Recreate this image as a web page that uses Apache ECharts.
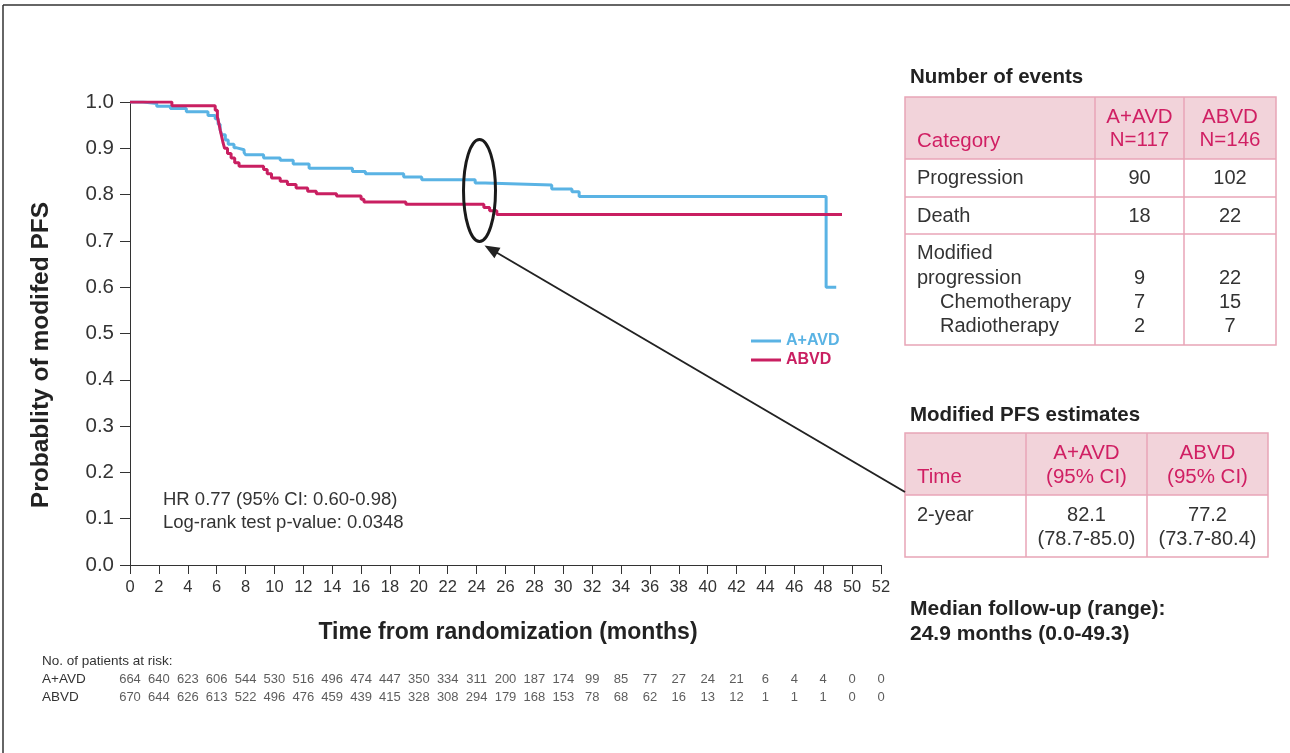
<!DOCTYPE html>
<html><head><meta charset="utf-8">
<script src="https://cdn.jsdelivr.net/npm/echarts@6/dist/echarts.min.js"></script>
<style>html,body{margin:0;padding:0;background:#fff}#c{width:1290px;height:753px}</style>
</head><body><div id="c"></div>
<script>
// ---- data ----
const aavdTime = [0, 0.9, 1.85, 2.8, 3.9, 5.4, 5.9, 6.1, 6.24, 6.35, 6.6, 6.8, 7.2, 7.4, 7.9, 8.0, 9.25, 10.4, 11.3, 12.4, 15.4, 16.3, 18.95, 20.2, 23.9, 24.6, 29.2, 30.6, 31.1, 48.2, 48.9];
const aavdSurv = [1.0, 0.997, 0.991, 0.986, 0.979, 0.971, 0.964, 0.952, 0.940, 0.929, 0.918, 0.909, 0.901, 0.897, 0.891, 0.886, 0.879, 0.874, 0.866, 0.857, 0.850, 0.845, 0.838, 0.832, 0.825, 0.821, 0.812, 0.806, 0.796, 0.600, 0.600];
const abvdTime = [0, 2.9, 5.9, 6.05, 6.15, 6.25, 6.35, 6.45, 6.55, 6.75, 7.0, 7.25, 7.55, 9.25, 9.5, 9.8, 10.4, 10.9, 11.5, 12.3, 12.9, 14.3, 16.0, 16.2, 19.1, 24.5, 24.9, 25.4, 49.3];
const abvdSurv = [1.0, 0.992, 0.982, 0.968, 0.954, 0.939, 0.925, 0.911, 0.900, 0.889, 0.879, 0.869, 0.861, 0.854, 0.845, 0.836, 0.829, 0.822, 0.814, 0.807, 0.802, 0.797, 0.790, 0.784, 0.779, 0.772, 0.765, 0.757, 0.757];

const riskTimes = [0, 2, 4, 6, 8, 10, 12, 14, 16, 18, 20, 22, 24, 26, 28, 30, 32, 34, 36, 38, 40, 42, 44, 46, 48, 50, 52];
const riskAAVD = [664, 640, 623, 606, 544, 530, 516, 496, 474, 447, 350, 334, 311, 200, 187, 174, 99, 85, 77, 27, 24, 21, 6, 4, 4, 0, 0];
const riskABVD = [670, 644, 626, 613, 522, 496, 476, 459, 439, 415, 328, 308, 294, 179, 168, 153, 78, 68, 62, 16, 13, 12, 1, 1, 1, 0, 0];

const seriesNames = ['A+AVD', 'ABVD'];
const eventRows = ['Progression', 'Death'];
const eventsAAVD = [90, 18];
const eventsABVD = [102, 22];
const modifiedLabels = ['Modified', 'progression', 'Chemotherapy', 'Radiotherapy'];
const modifiedAAVD = ['', '9', '7', '2'];
const modifiedABVD = ['', '22', '15', '7'];
const nAAVD = 117, nABVD = 146;
const pfsTime = '2-year';
const pfsAAVD = ['82.1', '(78.7-85.0)'];
const pfsABVD = ['77.2', '(73.7-80.4)'];
const hrText = ['HR 0.77 (95% CI: 0.60-0.98)', 'Log-rank test p-value: 0.0348'];
const followUp = ['Median follow-up (range):', '24.9 months (0.0-49.3)'];

// ---- styles ----
const BLUE = '#5ab3e4', PINK = '#c91f61', FONT = '"Liberation Sans", Arial, Helvetica, sans-serif';
const TXT = '#333333', HEADBG = '#f2d3da', BORDER = '#e8a5b7', HEADTXT = '#d01f63';

const chart = echarts.init(document.getElementById('c'), null, {renderer: 'canvas'});

const kmAAVD = aavdTime.map((t, i) => [t, aavdSurv[i]]);
const kmABVD = abvdTime.map((t, i) => [t, abvdSurv[i]]);

chart.setOption({
  animation: false,
  textStyle: {fontFamily: FONT},
  grid: [
    {left: 130, right: 409, top: 102, bottom: 188},
    {left: 130, right: 409, top: 670, height: 36}
  ],
  legend: {
    orient: 'vertical', left: 751, top: 332, padding: 0, icon: 'rect', itemWidth: 30, itemHeight: 3, itemGap: 1,
    selectedMode: false,
    textStyle: {fontFamily: FONT, fontSize: 16, fontWeight: 'bold', lineHeight: 18},
    data: [
      {name: 'A+AVD', textStyle: {color: BLUE}},
      {name: 'ABVD', textStyle: {color: PINK}}
    ]
  },
  xAxis: [
    {type: 'value', gridIndex: 0, min: 0, max: 52, interval: 2,
     axisLine: {lineStyle: {color: '#333', width: 1}},
     axisTick: {length: 9, lineStyle: {color: '#333'}},
     axisLabel: {fontSize: 16.5, color: TXT, margin: 14, fontFamily: FONT},
     splitLine: {show: false}},
    {type: 'value', gridIndex: 1, min: 0, max: 52, interval: 2, show: false}
  ],
  yAxis: [
    {type: 'value', gridIndex: 0, min: 0, max: 1, interval: 0.1,
     axisLine: {show: true, lineStyle: {color: '#333', width: 1}},
     axisTick: {show: true, length: 10, lineStyle: {color: '#333'}},
     axisLabel: {fontSize: 20.5, color: TXT, margin: 16, fontFamily: FONT, formatter: v => v.toFixed(1)},
     splitLine: {show: false}},
    {type: 'category', gridIndex: 1, data: seriesNames, inverse: true, show: false}
  ],
  series: [
    {name: 'A+AVD', type: 'line', step: 'end', data: kmAAVD, symbol: 'none',
     lineStyle: {color: BLUE, width: 3}, itemStyle: {color: BLUE}, z: 3},
    {name: 'ABVD', type: 'line', step: 'end', data: kmABVD, symbol: 'none',
     lineStyle: {color: PINK, width: 3}, itemStyle: {color: PINK}, z: 4},
    {name: 'riskA', type: 'scatter', xAxisIndex: 1, yAxisIndex: 1, symbolSize: 1,
     itemStyle: {color: 'rgba(0,0,0,0)'}, silent: true,
     data: riskTimes.map((t, i) => [t, 'A+AVD', riskAAVD[i]]),
     label: {show: true, position: 'inside', formatter: p => String(p.value[2]), fontSize: 13, color: TXT, fontFamily: FONT}},
    {name: 'riskB', type: 'scatter', xAxisIndex: 1, yAxisIndex: 1, symbolSize: 1,
     itemStyle: {color: 'rgba(0,0,0,0)'}, silent: true,
     data: riskTimes.map((t, i) => [t, 'ABVD', riskABVD[i]]),
     label: {show: true, position: 'inside', formatter: p => String(p.value[2]), fontSize: 13, color: TXT, fontFamily: FONT}}
  ]
});

// ---- annotations / side tables ----
function txt(x, y, s, o) {
  o = o || {};
  return {type: 'text', x: x, y: y, silent: true, z: 10, rotation: o.rotation || 0,
    style: {text: s, fill: o.color || TXT, fontSize: o.size || 20, fontWeight: o.weight || 'normal',
      fontFamily: FONT, textAlign: o.align || 'left', textVerticalAlign: 'middle'}};
}
function line(x1, y1, x2, y2, color, w) {
  return {type: 'line', silent: true, z: 9, shape: {x1, y1, x2, y2}, style: {stroke: color, lineWidth: w}};
}
function rect(x, y, w, h, fill, stroke) {
  return {type: 'rect', silent: true, z: 8, shape: {x, y, width: w, height: h},
    style: {fill: fill || 'none', stroke: stroke || 'none', lineWidth: 1.5}};
}

const g = [];
// frame
g.push(line(3, 5, 1290, 5, '#333', 1.5));
g.push(line(3, 5, 3, 753, '#333', 1.5));

// axis titles
g.push(txt(41, 355, 'Probablity of modifed PFS', {size: 24.5, weight: 'bold', align: 'center', rotation: Math.PI / 2, color: '#222'}));
g.push(txt(508, 633, 'Time from randomization (months)', {size: 23, weight: 'bold', align: 'center', color: '#222'}));

// HR text
g.push(txt(163, 500, hrText[0], {size: 18.5}));
g.push(txt(163, 523, hrText[1], {size: 18.5}));

// at risk labels
g.push(txt(42, 661, 'No. of patients at risk:', {size: 13.5}));
g.push(txt(42, 679, seriesNames[0], {size: 13.5}));
g.push(txt(42, 697, seriesNames[1], {size: 13.5}));

// Table 1
const t1L = 905, t1R = 1276, c1 = 1095, c2 = 1184, t1T = 97, t1H = 159;
g.push(txt(910, 77, 'Number of events', {size: 20.5, weight: 'bold', color: '#222'}));
g.push(rect(t1L, t1T, t1R - t1L, t1H - t1T, HEADBG));
g.push(rect(t1L, t1T, t1R - t1L, 345 - t1T, null, BORDER));
[159, 197, 234].forEach(y => g.push(line(t1L, y, t1R, y, BORDER, 1.5)));
[c1, c2].forEach(x => g.push(line(x, t1T, x, 345, BORDER, 1.5)));
const m1 = (c1 + c2) / 2, m2 = (c2 + t1R) / 2;
g.push(txt(917, 141, 'Category', {color: HEADTXT, size: 20.5}));
g.push(txt(m1, 117, seriesNames[0], {color: HEADTXT, align: 'center', size: 20.5}));
g.push(txt(m1, 140, 'N=' + nAAVD, {color: HEADTXT, align: 'center', size: 20.5}));
g.push(txt(m2, 117, seriesNames[1], {color: HEADTXT, align: 'center', size: 20.5}));
g.push(txt(m2, 140, 'N=' + nABVD, {color: HEADTXT, align: 'center', size: 20.5}));
const rowY = [178, 216];
eventRows.forEach((r, i) => {
  g.push(txt(917, rowY[i], r));
  g.push(txt(m1, rowY[i], String(eventsAAVD[i]), {align: 'center'}));
  g.push(txt(m2, rowY[i], String(eventsABVD[i]), {align: 'center'}));
});
const modY = [253, 278, 302, 326];
modifiedLabels.forEach((r, i) => {
  g.push(txt(i >= 2 ? 940 : 917, modY[i], r));
  if (modifiedAAVD[i]) g.push(txt(m1, modY[i], modifiedAAVD[i], {align: 'center'}));
  if (modifiedABVD[i]) g.push(txt(m2, modY[i], modifiedABVD[i], {align: 'center'}));
});

// Table 2
const t2L = 905, t2R = 1268, d1 = 1026, d2 = 1147, t2T = 433, t2H = 495, t2B = 557;
g.push(txt(910, 415, 'Modified PFS estimates', {size: 20.5, weight: 'bold', color: '#222'}));
g.push(rect(t2L, t2T, t2R - t2L, t2H - t2T, HEADBG));
g.push(rect(t2L, t2T, t2R - t2L, t2B - t2T, null, BORDER));
g.push(line(t2L, t2H, t2R, t2H, BORDER, 1.5));
[d1, d2].forEach(x => g.push(line(x, t2T, x, t2B, BORDER, 1.5)));
const n1 = (d1 + d2) / 2, n2 = (d2 + t2R) / 2;
g.push(txt(917, 477, 'Time', {color: HEADTXT, size: 20.5}));
g.push(txt(n1, 453, seriesNames[0], {color: HEADTXT, align: 'center', size: 20.5}));
g.push(txt(n1, 477, '(95% CI)', {color: HEADTXT, align: 'center', size: 20.5}));
g.push(txt(n2, 453, seriesNames[1], {color: HEADTXT, align: 'center', size: 20.5}));
g.push(txt(n2, 477, '(95% CI)', {color: HEADTXT, align: 'center', size: 20.5}));
g.push(txt(917, 515, pfsTime));
g.push(txt(n1, 515, pfsAAVD[0], {align: 'center'}));
g.push(txt(n1, 539, pfsAAVD[1], {align: 'center'}));
g.push(txt(n2, 515, pfsABVD[0], {align: 'center'}));
g.push(txt(n2, 539, pfsABVD[1], {align: 'center'}));

g.push(txt(910, 609, followUp[0], {size: 21, weight: 'bold', color: '#222'}));
g.push(txt(910, 634, followUp[1], {size: 21, weight: 'bold', color: '#222'}));

// ellipse around 24 months + arrow
const ec = chart.convertToPixel({gridIndex: 0}, [24.2, 0.809]);
const rx = 16, ry = 51;
g.push({type: 'ellipse', silent: true, z: 11, shape: {cx: ec[0], cy: ec[1], rx: rx, ry: ry},
  style: {fill: 'none', stroke: '#1a1a1a', lineWidth: 3}});
const sx = 905, sy = 492, ex = ec[0] + 5, ey = ec[1] + ry + 4;
const dx = ex - sx, dy = ey - sy, L = Math.hypot(dx, dy), ux = dx / L, uy = dy / L;
const hl = 15, hw = 6;
const bx = ex - ux * hl, by = ey - uy * hl;
g.push(line(sx, sy, bx + ux * 2, by + uy * 2, '#222', 2));
g.push({type: 'polygon', silent: true, z: 11, shape: {points: [[ex, ey], [bx - uy * hw, by + ux * hw], [bx + uy * hw, by - ux * hw]]},
  style: {fill: '#222'}});

chart.setOption({graphic: g});
</script></body></html>
